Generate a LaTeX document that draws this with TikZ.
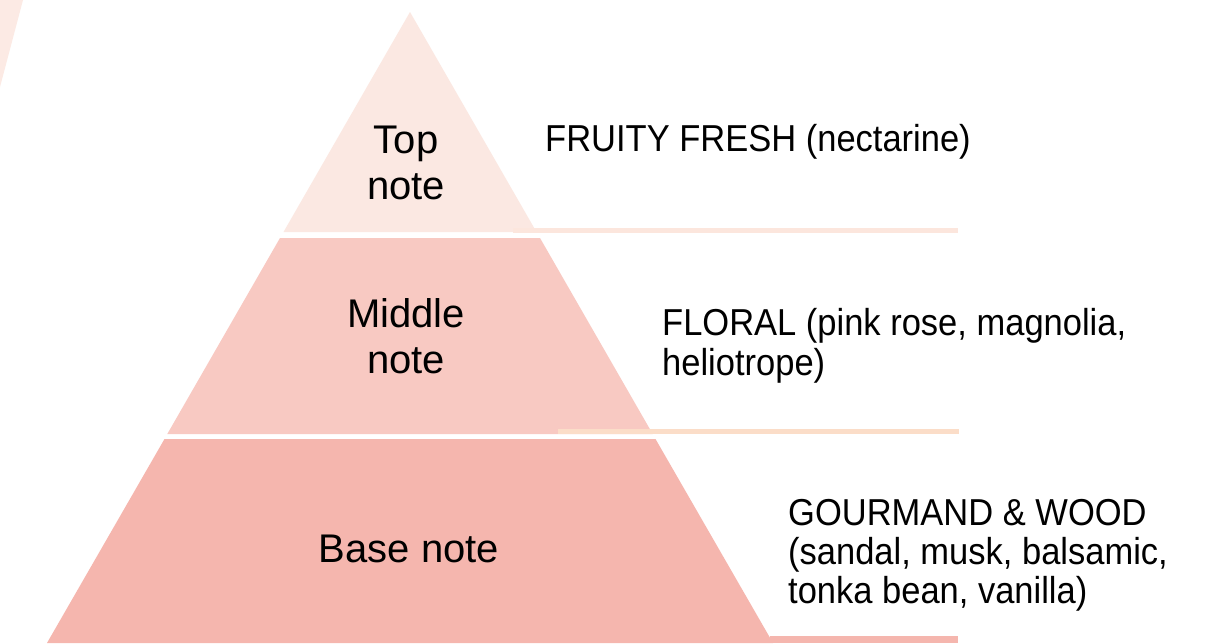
\documentclass[tikz,border=0pt]{standalone}
\usepackage{fontspec}
\setmainfont{Liberation Sans}
\newfontfamily\narrowfont[FakeStretch=0.92]{Liberation Sans}
\definecolor{topc}{HTML}{FBE8E2}
\definecolor{midc}{HTML}{F8C9C2}
\definecolor{basec}{HTML}{F5B6AE}
\definecolor{toplinec}{HTML}{FCE6DD}
\definecolor{midlinec}{HTML}{FBDDC8}
\definecolor{cornerc}{HTML}{FCEAE4}
\tikzset{
  lbl/.style={inner sep=0pt, align=center, font=\fontsize{40}{46}\selectfont},
  desc/.style={inner sep=0pt, align=left, anchor=base west},
}
\begin{document}
\begin{tikzpicture}[x=1pt,y=-1pt]
\useasboundingbox (0,0) rectangle (1224,643);
\fill[white] (0,0) rectangle (1224,643);
% corner shape
\fill[cornerc] (0,0) -- (23,0) -- (0,87) -- cycle;
% pyramid layers
\fill[topc] (410,12) -- (536.5,232) -- (283.5,232) -- cycle;
\fill[toplinec] (513,228) rectangle (958,233);
\fill[midc] (280,238) -- (540,238) -- (652.7,434) -- (167.3,434) -- cycle;
\fill[midlinec] (558,429) rectangle (959,434);
\fill[basec] (164.5,439) -- (655.5,439) -- (773,643) -- (47,643) -- cycle;
\fill[basec] (770,636) rectangle (958,643);
% labels (base anchor = baseline of last line)
\node[lbl, anchor=base] (top) at (406,199) {Top\\note};
\node[lbl, anchor=base] (mid) at (406,373) {Middle\\note};
\node[lbl, anchor=base] (base) at (409,562) {Base note};
% descriptions
\node[desc, font=\narrowfont\fontsize{37.5}{42}\selectfont] (fruity) at (545,151) {FRUITY FRESH (nectarine)};
\node[desc, font=\narrowfont\fontsize{37.5}{40}\selectfont] (floral) at (662,375) {FLORAL (pink rose, magnolia,\\heliotrope)};
\node[desc, font=\narrowfont\fontsize{37.5}{39}\selectfont] (gourmand) at (788,603) {GOURMAND \& WOOD\\(sandal, musk, balsamic,\\tonka bean, vanilla)};
\end{tikzpicture}
\end{document}
